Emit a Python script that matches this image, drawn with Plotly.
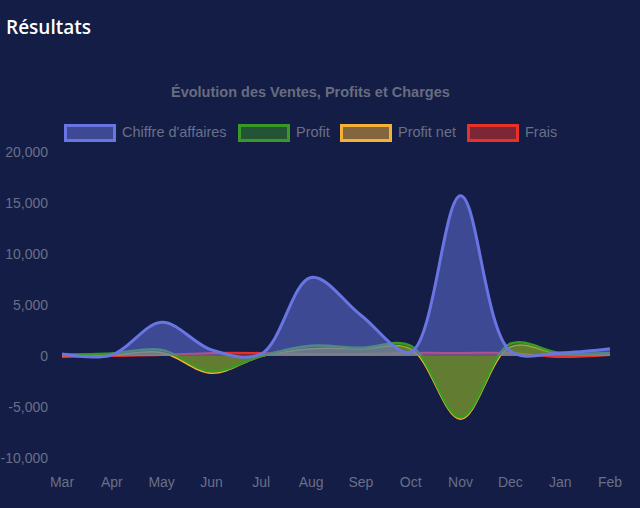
import plotly.graph_objects as go

months = ["Mar", "Apr", "May", "Jun", "Jul", "Aug", "Sep", "Oct", "Nov", "Dec", "Jan", "Feb"]
chiffre_affaires = [200, 100, 3300, 600, 200, 7700, 4000, 400, 15700, 500, 300, 700]
profit = [150, 250, 600, -1500, 0, 1000, 800, 1000, -6000, 1200, 300, 300]
profit_net = [50, 100, 350, -1700, -50, 700, 700, 700, -6200, 900, 200, 250]
frais = [-100, 0, 100, 300, 300, 200, 200, 300, 300, 300, -100, 100]

y_tick_values = [-10000, -5000, 0, 5000, 10000, 15000, 20000]
y_tick_labels = ["-10,000", "-5,000", "0", "5,000", "10,000", "15,000", "20,000"]

series_names = ["Chiffre d'affaires", "Profit", "Profit net", "Frais"]
series_values = [chiffre_affaires, profit, profit_net, frais]
line_colors = ["rgb(106,117,228)", "rgb(58,152,36)", "rgb(245,176,55)", "rgb(232,50,40)"]
fill_colors = ["rgba(106,117,228,0.5)", "rgba(58,152,36,0.45)", "rgba(245,176,55,0.5)", "rgba(232,50,40,0.5)"]
line_widths = [3, 2.5, 1.5, 2]

BG = "#131d45"
TICK = "#6a6f88"
W, H = 640, 508
L, R, T, B = 62, 30, 152, 50
PW, PH = W - L - R, H - T - B

def px_x(px):
    return (px - L) / PW

def px_y(py):
    return (H - B - py) / PH

fig = go.Figure()
for i in reversed(range(4)):
    fig.add_trace(go.Scatter(
        x=months, y=series_values[i], name=series_names[i],
        mode="lines", line=dict(color=line_colors[i], width=line_widths[i], shape="spline", smoothing=1.0),
        fill="tozeroy", fillcolor=fill_colors[i], showlegend=False,
        hoverinfo="x+y+name",
    ))

shapes = []
annotations = []
# custom Chart.js-like legend
legend_x = [64, 238, 340, 467]
for i, name in enumerate(series_names):
    x0 = legend_x[i]
    shapes.append(dict(type="rect", xref="paper", yref="paper",
                       x0=px_x(x0 + 1.5), x1=px_x(x0 + 50.5), y0=px_y(140.5), y1=px_y(125.5),
                       line=dict(color=line_colors[i], width=3), fillcolor=fill_colors[i], layer="above"))
    annotations.append(dict(text=name, xref="paper", yref="paper", x=px_x(x0 + 56), y=px_y(132),
                            xanchor="left", yanchor="middle", showarrow=False,
                            font=dict(family="Liberation Sans, Arial, sans-serif", size=14.5, color=TICK)))

annotations.append(dict(text="Évolution des Ventes, Profits et Charges", xref="paper", yref="paper",
                        x=px_x(310.5), y=px_y(92), xanchor="center", yanchor="middle", showarrow=False,
                        font=dict(family="Liberation Sans, Arial, sans-serif", size=14.5, color="#686c80", weight="bold")))
annotations.append(dict(text="Résultats", xref="paper", yref="paper",
                        x=px_x(4), y=px_y(27), xanchor="left", yanchor="middle", showarrow=False,
                        font=dict(family="Open Sans, sans-serif", size=19, color="#ffffff", weight=600)))

fig.update_layout(
    width=W, height=H,
    margin=dict(l=L, r=R, t=T, b=B, pad=0),
    paper_bgcolor=BG, plot_bgcolor=BG,
    showlegend=False,
    shapes=shapes, annotations=annotations,
    font=dict(family="Liberation Sans, Arial, sans-serif", size=14, color=TICK),
)
fig.update_xaxes(range=[0, len(months) - 1], showgrid=False, zeroline=False, showline=False, automargin=False,
                 ticks="", ticklabelstandoff=14, tickfont=dict(size=14, color=TICK))
fig.update_yaxes(range=[-10000, 20000], tickvals=y_tick_values, ticktext=y_tick_labels, showgrid=False,
                 zeroline=False, showline=False, automargin=False, ticks="", ticklabelstandoff=13,
                 tickfont=dict(size=14, color=TICK))

fig.write_html("out.html")
